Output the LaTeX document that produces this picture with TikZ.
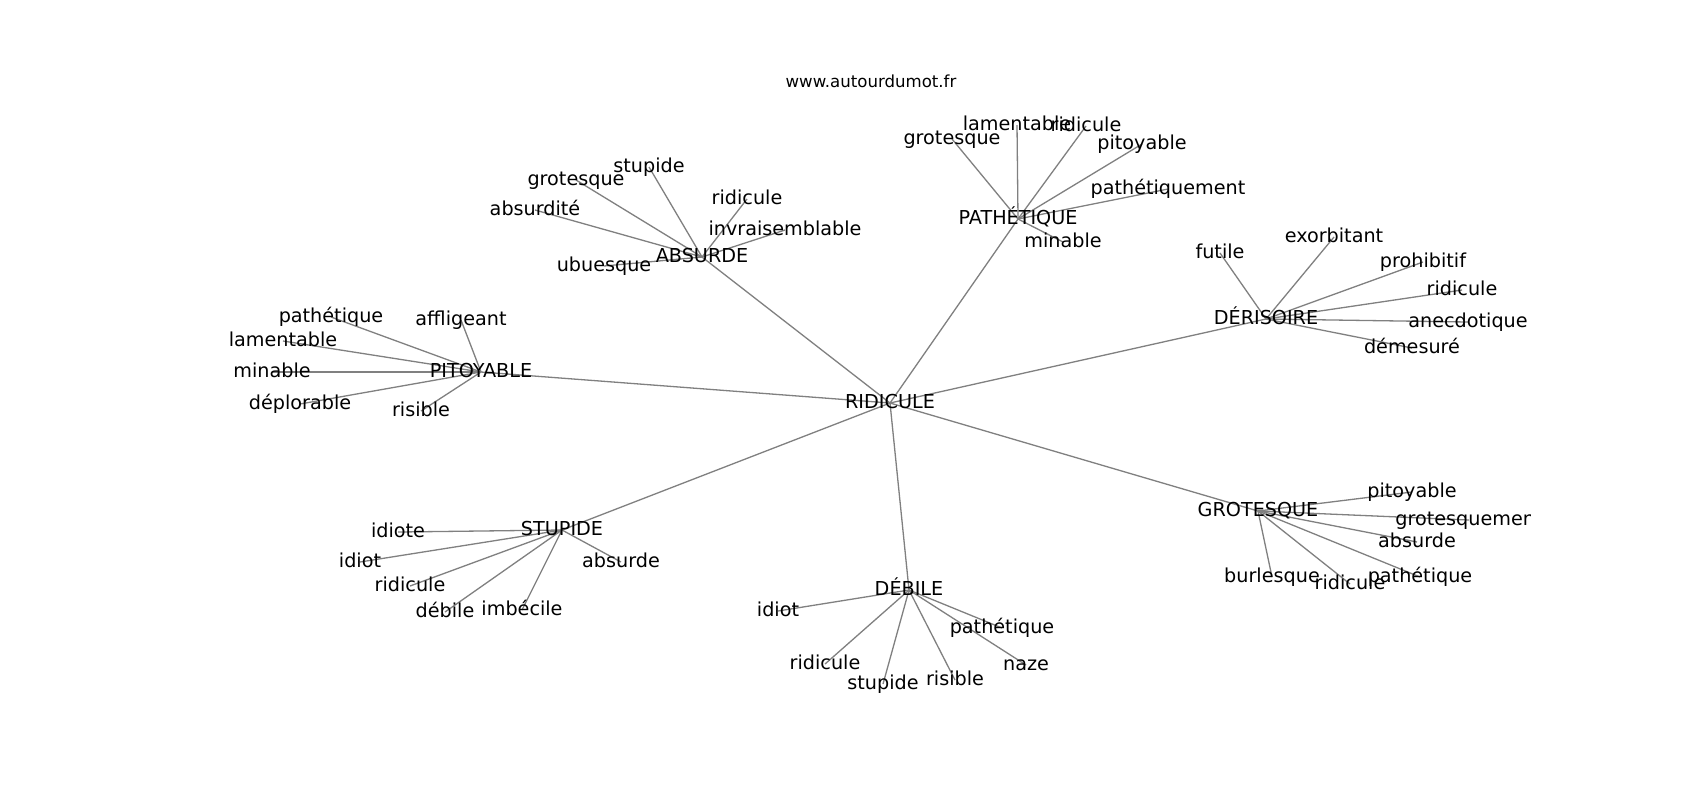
\documentclass[tikz,border=0pt]{standalone}
\usepackage{fontspec}
\setmainfont{DejaVu Sans}
\pgfdeclarelayer{bg}
\pgfdeclarelayer{paper}
\pgfsetlayers{paper,bg,main}
\tikzset{
  lbl/.style={font=\fontsize{9.6}{11}\selectfont, inner sep=0pt, outer sep=0pt,
              text height=7.3pt, text depth=2.27pt, text=black},
  edge/.style={draw=black!50, line width=0.65pt},
  ttl/.style={font=\fontsize{8.3}{10}\selectfont, inner sep=0pt, anchor=base, text=black}
}
\begin{document}
\begin{tikzpicture}[x=0.5pt,y=-0.5pt]
\begin{pgfonlayer}{paper}
  \fill[white] (0,0) rectangle (1700,800);
\end{pgfonlayer}
\useasboundingbox (0,0) rectangle (1700,800);
\node[ttl] (title) at (871,87.7) {www.autourdumot.fr};

% centre
\node[lbl] (r) at (890,403) {RIDICULE};

% ABSURDE
\node[lbl] (ab) at (702,257) {ABSURDE};
\node[lbl] (ab1) at (649,167) {stupide};
\node[lbl] (ab2) at (576,180) {grotesque};
\node[lbl] (ab3) at (535,210) {absurdité};
\node[lbl] (ab4) at (747,199) {ridicule};
\node[lbl] (ab5) at (785,230) {invraisemblable};
\node[lbl] (ab6) at (604,266) {ubuesque};

% PATHETIQUE
\node[lbl] (pa) at (1018,219) {PATHÉTIQUE};
\node[lbl] (pa1) at (1017,125) {lamentable};
\node[lbl] (pa2) at (1086,126) {ridicule};
\node[lbl] (pa3) at (952,139) {grotesque};
\node[lbl] (pa4) at (1142,144) {pitoyable};
\node[lbl] (pa5) at (1168,189) {pathétiquement};
\node[lbl] (pa6) at (1063,242) {minable};

% DERISOIRE
\node[lbl] (de) at (1266,319) {DÉRISOIRE};
\node[lbl] (de1) at (1220,253) {futile};
\node[lbl] (de2) at (1334,237) {exorbitant};
\node[lbl] (de3) at (1423,262) {prohibitif};
\node[lbl] (de4) at (1462,290) {ridicule};
\node[lbl] (de5) at (1468,322) {anecdotique};
\node[lbl] (de6) at (1412,348) {démesuré};

% PITOYABLE
\node[lbl] (pi) at (481,372) {PITOYABLE};
\node[lbl] (pi1) at (331,317) {pathétique};
\node[lbl] (pi2) at (461,320) {affligeant};
\node[lbl] (pi3) at (283,341) {lamentable};
\node[lbl] (pi4) at (272,372) {minable};
\node[lbl] (pi5) at (300,404) {déplorable};
\node[lbl] (pi6) at (421,411) {risible};

% GROTESQUE
\node[lbl] (gr) at (1258,511) {GROTESQUE};
\node[lbl] (gr1) at (1412,492) {pitoyable};
\begin{scope}
  \clip (212.5,96) rectangle (1530,712);
  \node[lbl] (gr2) at (1469,520) {grotesquement};
\end{scope}
\node[lbl] (gr3) at (1417,542) {absurde};
\node[lbl] (gr4) at (1272,577) {burlesque};
\node[lbl] (gr5) at (1350,584) {ridicule};
\node[lbl] (gr6) at (1420,577) {pathétique};

% STUPIDE
\node[lbl] (st) at (562,530) {STUPIDE};
\node[lbl] (st1) at (398,532) {idiote};
\node[lbl] (st2) at (360,562) {idiot};
\node[lbl] (st3) at (621,562) {absurde};
\node[lbl] (st4) at (410,586) {ridicule};
\node[lbl] (st5) at (445,612) {débile};
\node[lbl] (st6) at (522,610) {imbécile};

% DEBILE
\node[lbl] (db) at (909,590) {DÉBILE};
\node[lbl] (db1) at (778,611) {idiot};
\node[lbl] (db2) at (825,664) {ridicule};
\node[lbl] (db3) at (883,684) {stupide};
\node[lbl] (db4) at (955,680) {risible};
\node[lbl] (db5) at (1026,665) {naze};
\node[lbl] (db6) at (1002,628) {pathétique};

\begin{pgfonlayer}{bg}
  \foreach \h in {ab,pa,de,pi,gr,st,db}{
    \draw[edge] (r.center) -- (\h.center);
    \foreach \k in {1,...,6}{
      \draw[edge] (\h.center) -- (\h\k.center);
    }
  }
\end{pgfonlayer}
\end{tikzpicture}
\end{document}
